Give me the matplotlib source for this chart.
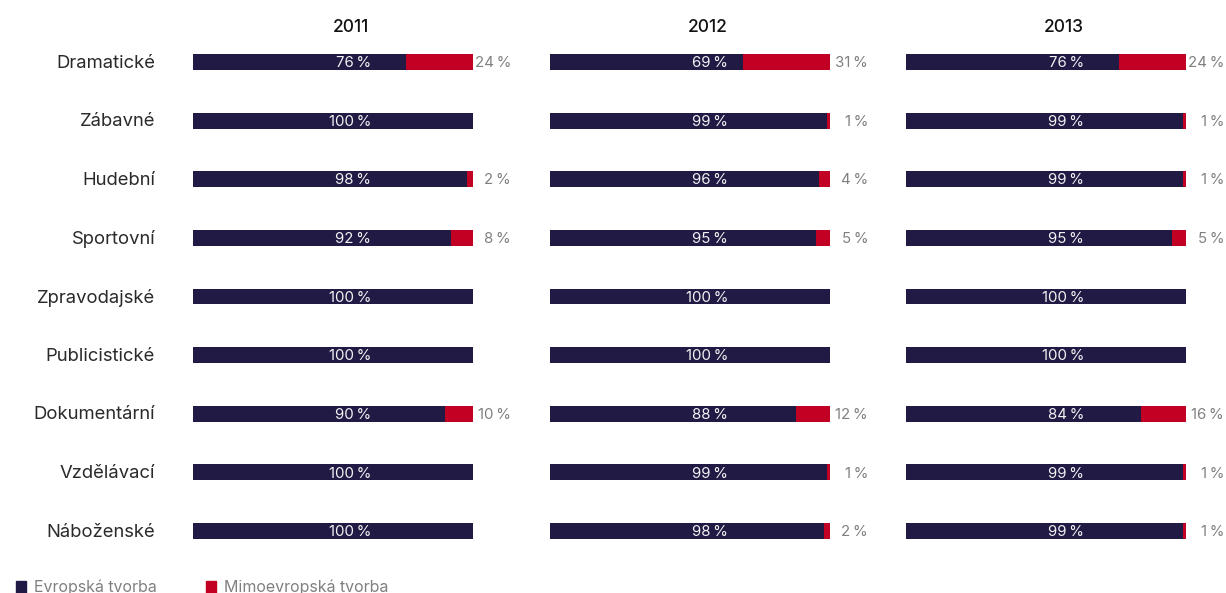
import matplotlib.pyplot as plt
from matplotlib.patches import Rectangle

categories = ["Dramatické", "Zábavné", "Hudební", "Sportovní", "Zpravodajské",
              "Publicistické", "Dokumentární", "Vzdělávací", "Náboženské"]
years = ["2011", "2012", "2013"]
evropska = [
    [76, 100, 98, 92, 100, 100, 90, 100, 100],
    [69, 99, 96, 95, 100, 100, 88, 99, 98],
    [76, 99, 99, 95, 100, 100, 84, 99, 99],
]
mimoevropska = [
    [24, 0, 2, 8, 0, 0, 10, 0, 0],
    [31, 1, 4, 5, 0, 0, 12, 1, 2],
    [24, 1, 1, 5, 0, 0, 16, 1, 1],
]
legend_labels = ["Evropská tvorba", "Mimoevropská tvorba"]

DARK = "#211a45"
RED = "#c10024"
FONT = ["Inter", "DejaVu Sans"]
plt.rcParams["font.family"] = FONT

W, H = 1226, 593
fig = plt.figure(figsize=(W / 100, H / 100), dpi=100)

lefts = [193, 550, 906]
bar_w = 280
y_top, y_bot = 32.7, 560.3

for i, year in enumerate(years):
    ax = fig.add_axes([lefts[i] / W, 1 - y_bot / H, bar_w / W, (y_bot - y_top) / H])
    ypos = list(range(len(categories)))
    ax.barh(ypos, evropska[i], height=0.27, color=DARK)
    ax.barh(ypos, mimoevropska[i], left=evropska[i], height=0.27, color=RED)
    ax.set_xlim(0, 100)
    ax.set_ylim(len(categories) - 0.5, -0.5)
    ax.axis("off")
    for j in ypos:
        ax.text(63.6, j + 0.02, f"{evropska[i][j]}\u2009%", ha="right", va="center",
                color="#f2f2f2", fontsize=10.8, clip_on=False)
        if mimoevropska[i][j] > 0:
            ax.text(113.6, j + 0.02, f"{mimoevropska[i][j]}\u2009%", ha="right", va="center",
                    color="#808080", fontsize=10.8, clip_on=False)
        if i == 0:
            ax.text(-13.5, j + 0.02, categories[j], ha="right", va="center",
                    color="#2a2a2a", fontsize=13.3, clip_on=False)
    fig.text((lefts[i] + 158) / W, 1 - 27 / H, year, ha="center", va="center",
             fontsize=12.5, fontweight="medium", color="#111111")

# legenda
for x, lab, col in [(16, legend_labels[0], DARK), (206, legend_labels[1], RED)]:
    fig.patches.append(Rectangle((x / W, 1 - 593 / H), 10 / W, 12 / H,
                                 transform=fig.transFigure, color=col))
    fig.text((x + 18) / W, 1 - 587 / H, lab, ha="left", va="center",
             fontsize=11.5, color="#808080")

fig.savefig("out.png", dpi=100)
